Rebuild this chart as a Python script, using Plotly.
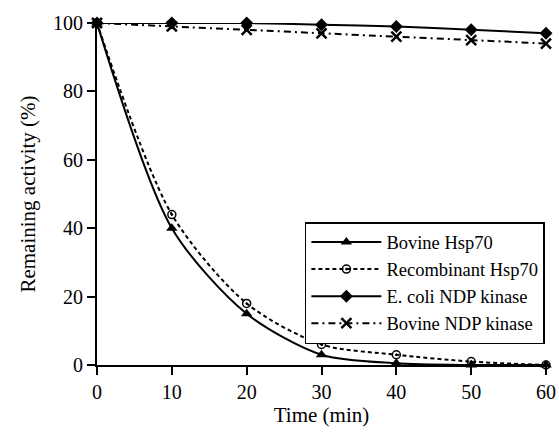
import plotly.graph_objects as go

time_min = [0, 10, 20, 30, 40, 50, 60]
bovine_hsp70 = [100, 40, 15, 3, 0.5, 0, 0]
recombinant_hsp70 = [100, 44, 18, 6, 3, 1, 0]
ecoli_ndp = [100, 100, 100, 99.5, 99, 98, 97]
bovine_ndp = [100, 99, 98, 97, 96, 95, 94]

x_ticks = [0, 10, 20, 30, 40, 50, 60]
y_ticks = [0, 20, 40, 60, 80, 100]

FONT = "Liberation Serif"

fig = go.Figure()
fig.add_trace(go.Scatter(
    x=time_min, y=bovine_hsp70, name="Bovine Hsp70", mode="lines+markers",
    line=dict(color="black", width=2, shape="spline", smoothing=0.8),
    marker=dict(symbol="triangle-up", size=10, color="black"),
))
fig.add_trace(go.Scatter(
    x=time_min, y=recombinant_hsp70, name="Recombinant Hsp70", mode="lines+markers",
    line=dict(color="black", width=2, dash="4px,3px", shape="spline", smoothing=0.8),
    marker=dict(symbol="circle-open-dot", size=8, color="black", line=dict(width=1.5)),
))
fig.add_trace(go.Scatter(
    x=time_min, y=ecoli_ndp, name="E. coli NDP kinase", mode="lines+markers",
    line=dict(color="black", width=2, shape="spline", smoothing=0.8),
    marker=dict(symbol="diamond", size=10, color="black"),
))
fig.add_trace(go.Scatter(
    x=time_min, y=bovine_ndp, name="Bovine NDP kinase", mode="lines+markers",
    line=dict(color="black", width=2, dash="7px,4px,2px,4px", shape="spline", smoothing=0.8),
    marker=dict(symbol="x-thin-open", size=10, color="black", line=dict(width=2.5, color="black")),
))
fig.update_traces(cliponaxis=False)

axis_common = dict(
    showline=True, linecolor="black", linewidth=2, showgrid=False, zeroline=False,
    ticks="outside", ticklen=8, tickwidth=2, tickcolor="black", automargin=False,
    tickfont=dict(family=FONT, size=20, color="black"),
)

fig.update_layout(
    width=559, height=433,
    margin=dict(l=97, r=13, t=23, b=68),
    paper_bgcolor="white", plot_bgcolor="white",
    font=dict(family=FONT, color="black"),
    xaxis=dict(range=[0, 60], tickvals=x_ticks,
               title=dict(text="Time (min)", font=dict(family=FONT, size=21), standoff=3),
               **axis_common),
    yaxis=dict(range=[0, 100], tickvals=y_ticks,
               title=dict(text="Remaining activity (%)", font=dict(family=FONT, size=21), standoff=12),
               **axis_common),
    legend=dict(x=0.463, y=0.418, xanchor="left", yanchor="top",
                bordercolor="black", borderwidth=1.5, bgcolor="white",
                font=dict(family=FONT, size=18.5, color="black"),
                itemwidth=70, tracegroupgap=0),
    showlegend=True,
)

fig.write_html(
    "out.html",
    config={"displayModeBar": False, "staticPlot": True},
    post_script="document.body.style.margin='0';document.body.style.overflow='hidden';",
)
